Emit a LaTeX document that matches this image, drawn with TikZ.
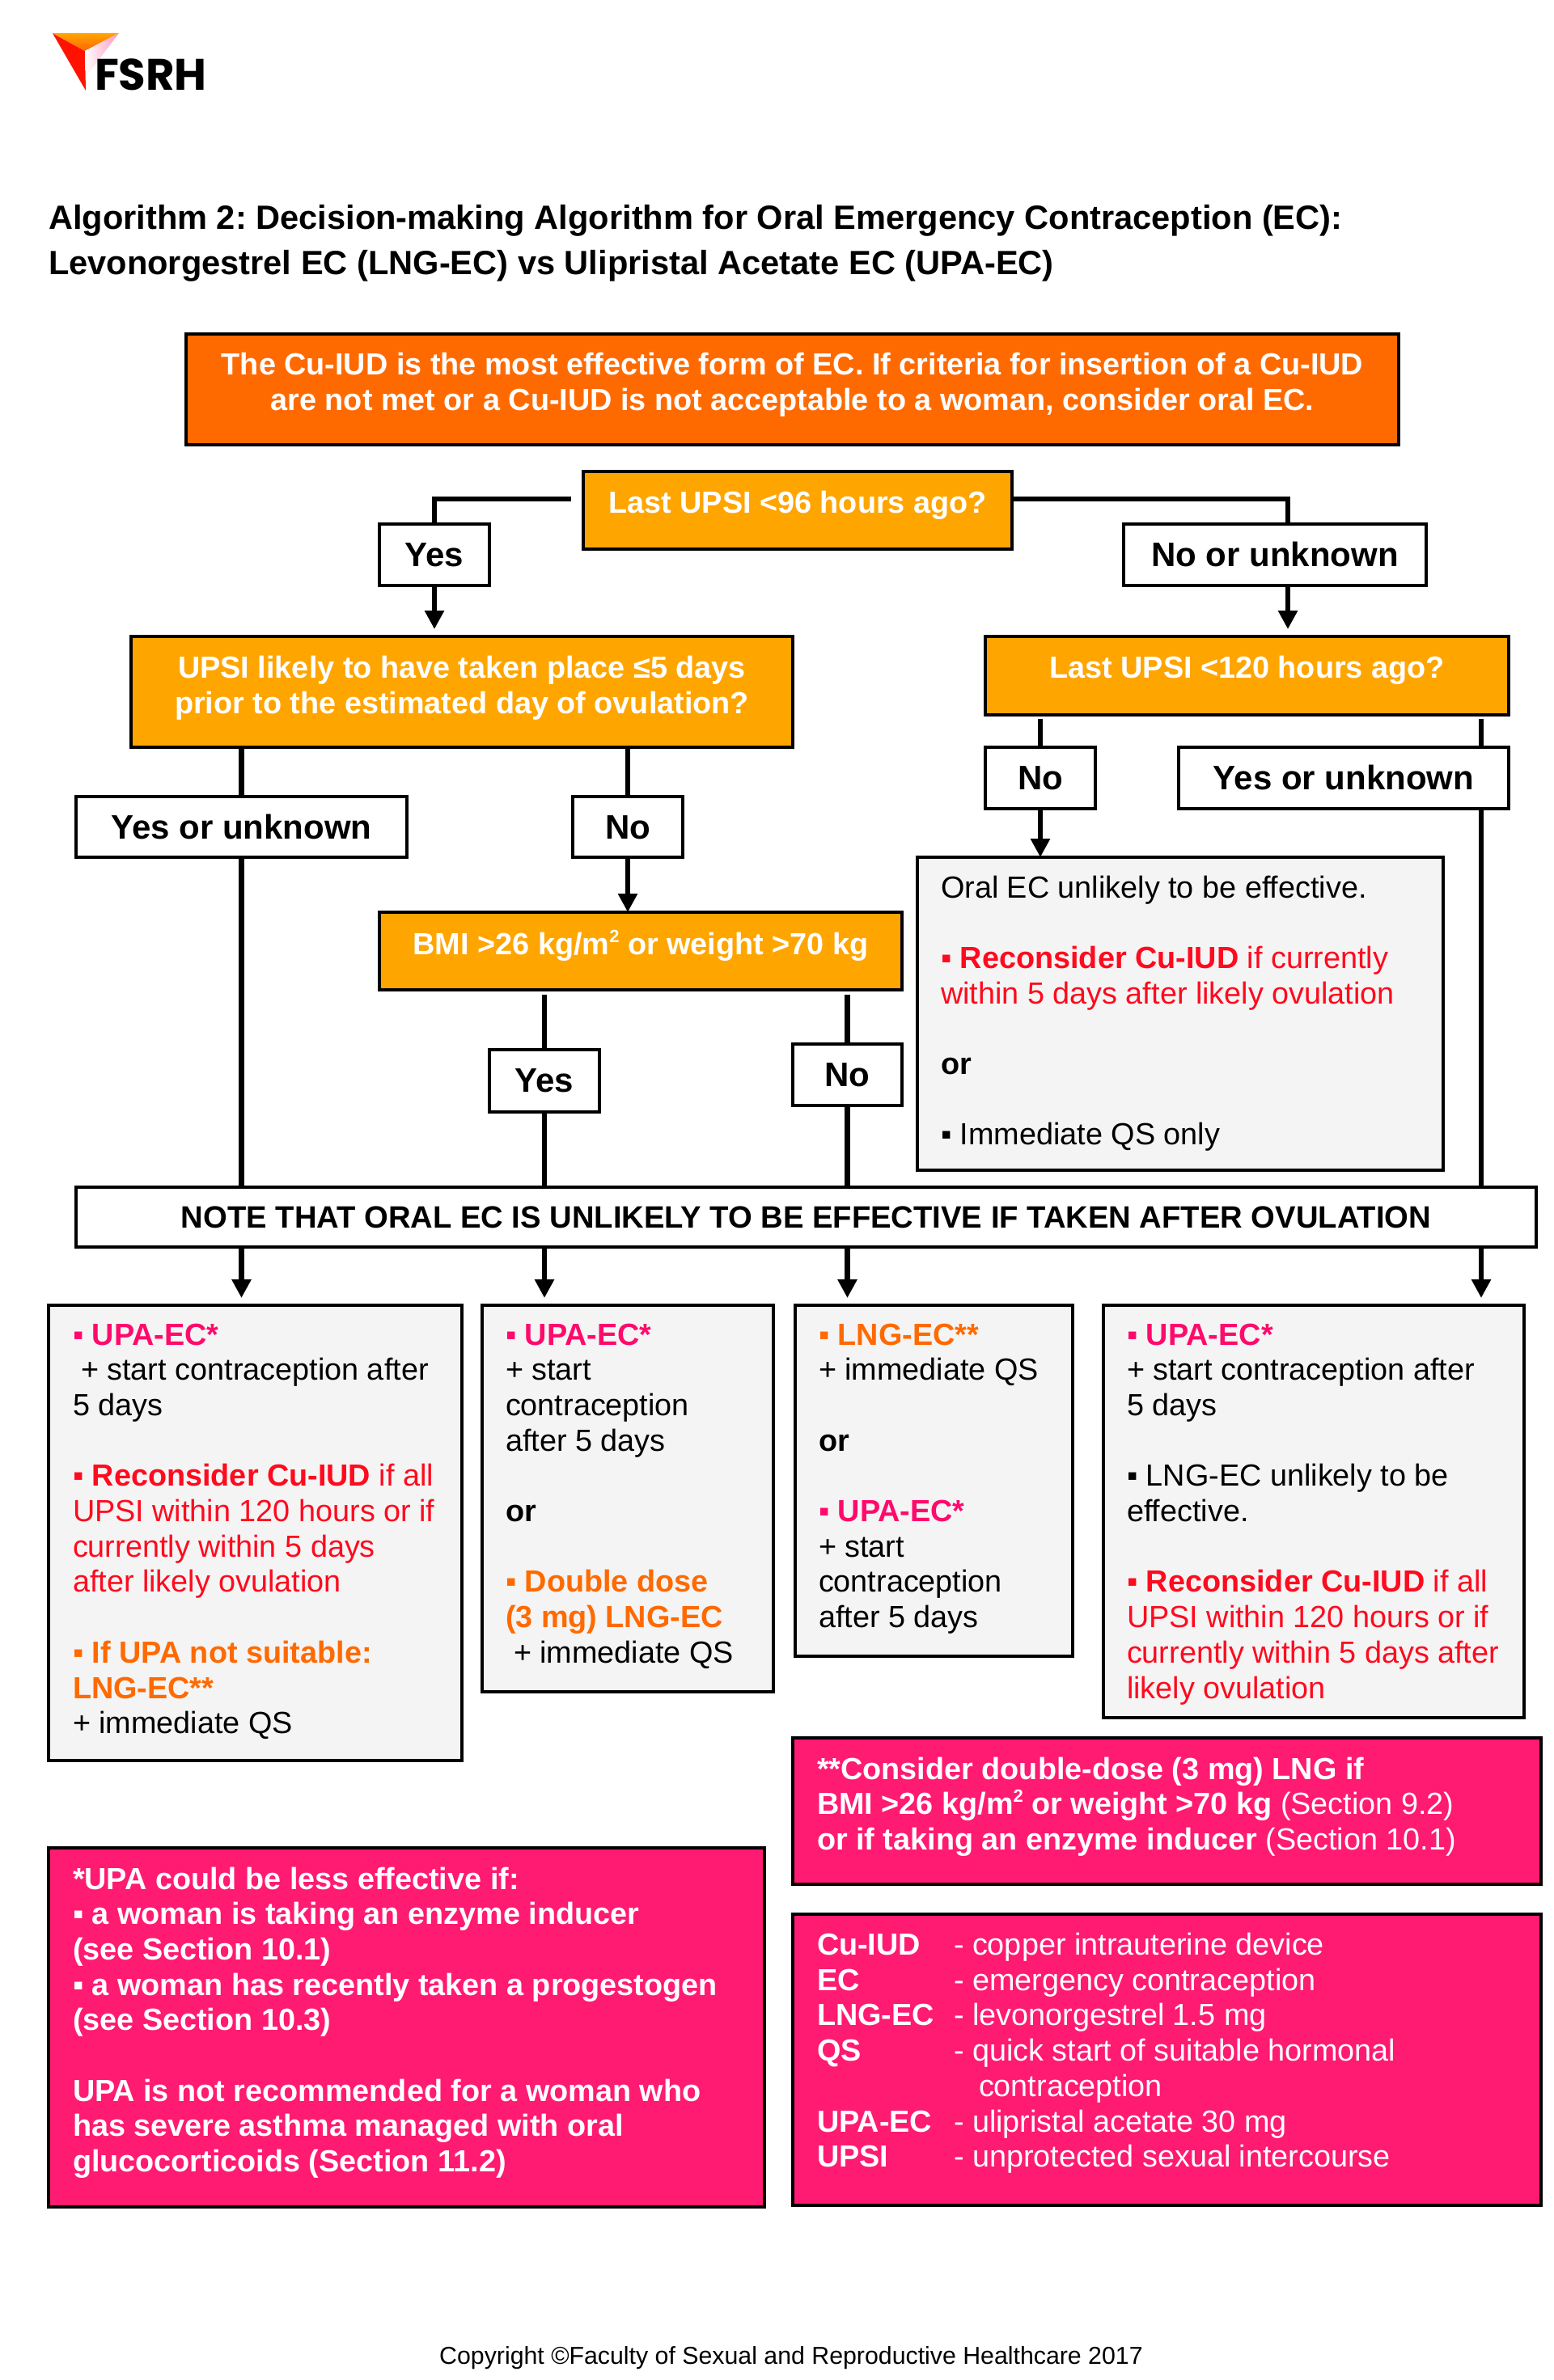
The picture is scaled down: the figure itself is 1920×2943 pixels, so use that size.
\documentclass[tikz,border=0pt]{standalone}
\usepackage{fontspec}
\setmainfont{Liberation Sans}
\newfontfamily\logofont{Poppins}
\usetikzlibrary{arrows.meta}
\definecolor{topor}{HTML}{FF6A00}
\definecolor{amber}{HTML}{FFA500}
\definecolor{panel}{HTML}{F4F4F4}
\definecolor{hotp}{HTML}{FF1A72}
\definecolor{upap}{HTML}{FF0A6C}
\definecolor{redt}{HTML}{FF0A1E}
\definecolor{ort}{HTML}{FF6A00}
\newcommand\bxl[5]{\parbox[c][#2pt][t]{#1pt}{\vspace*{\dimexpr#4pt-30pt\relax}\raggedright\leftskip=#3pt\parindent=0pt\rule{0pt}{30pt}#5\par}}
\newcommand\bxc[4]{\parbox[c][#2pt][t]{#1pt}{\vspace*{\dimexpr#3pt-30pt\relax}\centering\rule{0pt}{30pt}#4\par}}
\newcommand\upa{\textcolor{upap}{\textbf{▪ UPA-EC*}}}
\newcommand\gap{\\[43.7pt]}
\newcommand\sqd{\raisebox{15pt}{\fontsize{22}{22}\selectfont 2}}
\tikzset{
  x=1pt,y=-1pt,
  every node/.style={inner sep=0pt,outer sep=0pt,font=\fontsize{37.8}{43.7}\selectfont},
  framed/.style={draw=black,line width=3.5pt,anchor=north west},
  topbox/.style={framed,fill=topor,text=white,font=\fontsize{37.8}{44.5}\bfseries\selectfont},
  qbox/.style={framed,fill=amber,text=white,font=\fontsize{37.8}{44.5}\bfseries\selectfont},
  ansbox/.style={framed,fill=white,text=black,font=\fontsize{42}{44}\bfseries\selectfont},
  notebox/.style={framed,fill=white,text=black,font=\fontsize{38.2}{44}\bfseries\selectfont},
  panelbox/.style={framed,fill=panel,text=black},
  pinkbox/.style={framed,fill=hotp,text=white},
  conn/.style={draw=black,line width=6.5pt},
  arr/.style={conn,-{Triangle[length=23pt,width=23pt]}},
}
\begin{document}
\frenchspacing
\begin{tikzpicture}
\useasboundingbox (0,0) rectangle (1920,2943);
\fill[white] (0,0) rectangle (1920,2943);
% logo
\fill[red!85!orange] (65,41) -- (105,63) -- (106,112) -- cycle;
\shade[top color=amber,bottom color=orange!80!red] (65,41) -- (147,41) -- (105,63) -- cycle;
\shade[left color=white,right color=hotp!45!white] (147,41) -- (105,63) -- (106,95) -- cycle;
\node[anchor=base west] (logo) at (117,112) {\logofont\fontsize{54.5}{60}\selectfont\bfseries FSRH};
% title
\node[anchor=base west,align=left,font=\fontsize{41.6}{55}\bfseries\selectfont] (title) at (60,339) {Algorithm 2: Decision-making Algorithm for Oral Emergency Contraception (EC):\\Levonorgestrel EC (LNG-EC) vs Ulipristal Acetate EC (UPA-EC)};
% top
\node[topbox] (top) at (230,413) {\bxc{1499}{137}{50}{The Cu-IUD is the most effective form of EC. If criteria for insertion of a Cu-IUD\\are not met or a Cu-IUD is not acceptable to a woman, consider oral EC.}};
\node[qbox] (q96) at (721,583) {\bxc{530}{96}{51}{Last UPSI <96 hours ago?}};
\node[ansbox] (yesA) at (469,648) {\bxc{136}{76}{52}{Yes}};
\node[ansbox] (nuA) at (1389,648) {\bxc{374}{76}{52}{No or unknown}};
\node[qbox] (upsi) at (162,787) {\bxc{818}{137}{51}{UPSI likely to have taken place ≤5 days\\prior to the estimated day of ovulation?}};
\node[qbox] (q120) at (1218,787) {\bxc{647}{97}{51}{Last UPSI <120 hours ago?}};
\node[ansbox] (yuB) at (94,985) {\bxc{409}{75}{52}{Yes or unknown}};
\node[ansbox] (noB) at (708,985) {\bxc{136}{75}{52}{No}};
\node[ansbox] (noC) at (1218,924) {\bxc{136}{76}{52}{No}};
\node[ansbox] (yuC) at (1457,924) {\bxc{408}{76}{52}{Yes or unknown}};
\node[panelbox] (oral) at (1134,1060) {\bxl{650}{387}{29}{50}{Oral EC unlikely to be effective.\gap
\textcolor{redt}{\textbf{▪ Reconsider Cu-IUD} if currently}\\
\textcolor{redt}{within 5 days after likely ovulation}\gap
\textbf{or}\gap
▪ Immediate QS only}};
\node[qbox] (bmi) at (469,1128) {\bxc{646}{96}{52}{BMI >26 kg/m\sqd{} or weight >70 kg}};
\node[ansbox] (yesD) at (605,1298) {\bxc{136}{77}{52}{Yes}};
\node[ansbox] (noD) at (980,1291) {\bxc{135}{76}{52}{No}};
\node[notebox] (note) at (94,1468) {\bxc{1805}{74}{50}{NOTE THAT ORAL EC IS UNLIKELY TO BE EFFECTIVE IF TAKEN AFTER OVULATION}};
% outcomes
\node[panelbox] (outA) at (60,1614) {\bxl{511}{563}{30}{49}{\upa\\
\hspace*{10pt}+ start contraception after\\
5 days\gap
\textcolor{redt}{\textbf{▪ Reconsider Cu-IUD} if all}\\
\textcolor{redt}{UPSI within 120 hours or if}\\
\textcolor{redt}{currently within 5 days}\\
\textcolor{redt}{after likely ovulation}\gap
\textcolor{ort}{\textbf{▪ If UPA not suitable:}}\\
\textcolor{ort}{\textbf{LNG-EC**}}\\
+ immediate QS}};
\node[panelbox] (outB) at (596,1614) {\bxl{360}{478}{29}{49}{\upa\\
+ start\\
contraception\\
after 5 days\gap
\textbf{or}\gap
\textcolor{ort}{\textbf{▪ Double dose}}\\
\textcolor{ort}{\textbf{(3 mg) LNG-EC}}\\
\hspace*{10pt}+ immediate QS}};
\node[panelbox] (outC) at (983,1614) {\bxl{343}{434}{29}{49}{\textcolor{ort}{\textbf{▪ LNG-EC**}}\\
+ immediate QS\gap
\textbf{or}\gap
\upa\\
+ start\\
contraception\\
after 5 days}};
\node[panelbox] (outD) at (1364,1614) {\bxl{520}{510}{29}{49}{\upa\\
+ start contraception after\\
5 days\gap
▪ LNG-EC unlikely to be\\
effective.\gap
\textcolor{redt}{\textbf{▪ Reconsider Cu-IUD} if all}\\
\textcolor{redt}{UPSI within 120 hours or if}\\
\textcolor{redt}{currently within 5 days after}\\
\textcolor{redt}{likely ovulation}}};
% footnotes
\node[pinkbox] (dbl) at (980,2149) {\bxl{925}{181}{30}{51}{\textbf{**Consider double-dose (3 mg) LNG if}\\
\textbf{BMI >26 kg/m\sqd{} or weight >70 kg} (Section 9.2)\\
\textbf{or if taking an enzyme inducer} (Section 10.1)}};
\node[pinkbox] (less) at (60,2285) {\bxl{885}{444}{30}{51}{\textbf{*UPA could be less effective if:}\\
\textbf{▪ a woman is taking an enzyme inducer}\\
\textbf{(see Section 10.1)}\\
\textbf{▪ a woman has recently taken a progestogen}\\
\textbf{(see Section 10.3)}\gap
\textbf{UPA is not recommended for a woman who}\\
\textbf{has severe asthma managed with oral}\\
\textbf{glucocorticoids (Section 11.2)}}};
\newcommand\abbr[2]{\makebox[169pt][l]{\textbf{#1}}- #2}
\node[pinkbox] (abbr) at (980,2367) {\bxl{925}{360}{30}{50.5}{\abbr{Cu-IUD}{copper intrauterine device}\\
\abbr{EC}{emergency contraception}\\
\abbr{LNG-EC}{levonorgestrel 1.5 mg}\\
\abbr{QS}{quick start of suitable hormonal}\\
\hspace*{200pt}contraception\\
\abbr{UPA-EC}{ulipristal acetate 30 mg}\\
\abbr{UPSI}{unprotected sexual intercourse}}};
\node[anchor=base,font=\fontsize{30.3}{36}\selectfont] (copy) at (978,2923) {Copyright ©Faculty of Sexual and Reproductive Healthcare 2017};
% connectors
\coordinate (q96l) at (706,617);
\coordinate (q96r) at (1251,617);
\coordinate (colN) at (1592,0);
\coordinate (colB) at (1831,0);
\draw[conn] (q96l) -| (yesA.north);
\draw[conn] (q96r) -| (colN |- nuA.north);
\draw[arr,shorten >=9pt] (yesA.south) -- (yesA.south |- upsi.north);
\draw[arr,shorten >=9pt] (colN |- nuA.south) -- (colN |- q120.north);
\draw[conn] (yuB.north |- upsi.south) -- (yuB.north);
\draw[conn] (noB.north |- upsi.south) -- (noB.north);
\draw[arr] (noB.south) -- (noB.south |- bmi.north);
\draw[conn] (yuB.south) -- (yuB.south |- note.north);
\draw[conn,shorten <=5pt] (noC.north |- q120.south) -- (noC.north);
\draw[arr] (noC.south) -- (noC.south |- oral.north);
\draw[conn,shorten <=5pt] (colB |- q120.south) -- (colB |- yuC.north);
\draw[conn] (colB |- yuC.south) -- (colB |- note.north);
\draw[conn,shorten <=6pt] (yesD.north |- bmi.south) -- (yesD.north);
\draw[conn] (yesD.south) -- (yesD.south |- note.north);
\draw[conn,shorten <=6pt] (noD.north |- bmi.south) -- (noD.north);
\draw[conn] (noD.south) -- (noD.south |- note.north);
\draw[arr,shorten >=9pt] (yuB.south |- note.south) -- (yuB.south |- outA.north);
\draw[arr,shorten >=9pt] (yesD.south |- note.south) -- (yesD.south |- outB.north);
\draw[arr,shorten >=9pt] (noD.south |- note.south) -- (noD.south |- outC.north);
\draw[arr,shorten >=9pt] (colB |- note.south) -- (colB |- outD.north);
\end{tikzpicture}
\end{document}
